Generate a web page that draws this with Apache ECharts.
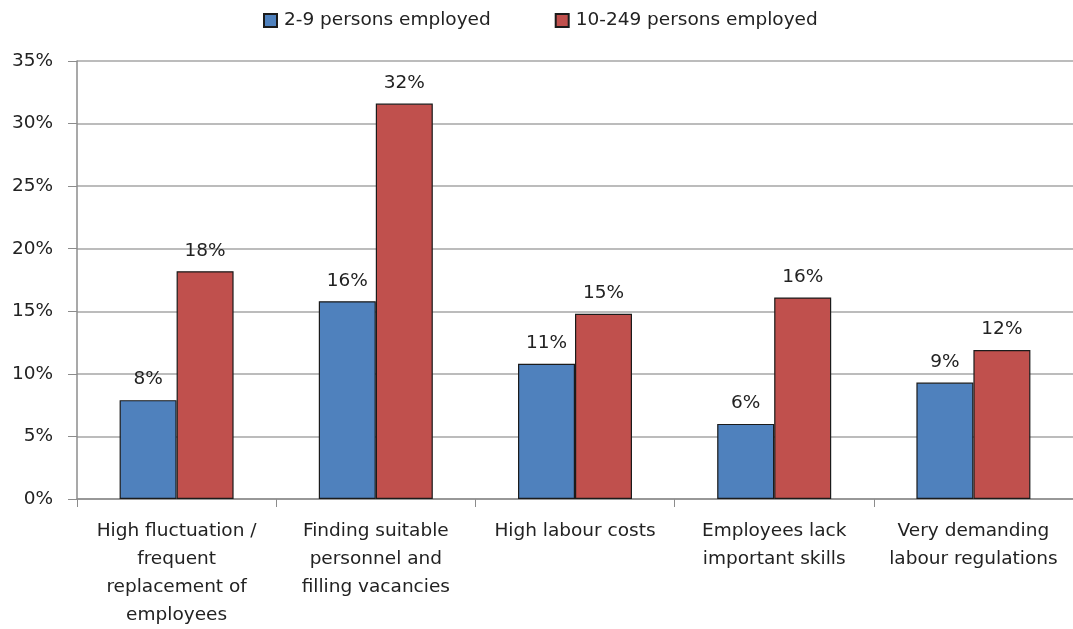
<!DOCTYPE html>
<html>
<head>
<meta charset="utf-8">
<script src="https://cdn.jsdelivr.net/npm/echarts@6/dist/echarts.min.js"></script>
<style>
  html, body { margin: 0; padding: 0; background: #fff; }
  #chart { width: 1073px; height: 629px; }
</style>
</head>
<body>
<div id="chart"></div>
<script>
// categories and values (percent)
var categories = [
    'High fluctuation /\nfrequent\nreplacement of\nemployees',
    'Finding suitable\npersonnel and\nfilling vacancies',
    'High labour costs',
    'Employees lack\nimportant skills',
    'Very demanding\nlabour regulations'
];
var small = [7.9, 15.8, 10.8, 6.0, 9.3];
var medium = [18.2, 31.6, 14.8, 16.1, 11.9];
var seriesNames = ['2-9 persons employed', '10-249 persons employed'];

var font = '"DejaVu Sans", "Open Sans", sans-serif';

function barSeries(name, data, color) {
    return {
        name: name,
        type: 'bar',
        data: data,
        barWidth: 57,
        barGap: '0%',
        itemStyle: { color: color, borderColor: '#1b1b1b', borderWidth: 1.2 },
        label: {
            show: true,
            position: 'top',
            distance: 11,
            fontFamily: font,
            fontSize: 18.5,
            color: '#222',
            formatter: function (p) { return Math.round(p.value) + '%'; }
        }
    };
}

var myChart = echarts.init(document.getElementById('chart'));
myChart.setOption({
    animation: false,
    legend: {
        top: 6,
        left: 258,
        icon: 'rect',
        itemWidth: 13,
        itemHeight: 13,
        itemGap: 64,
        textStyle: { fontFamily: font, fontSize: 18.5, color: '#222', padding: [0, 0, 0, 2] },
        data: seriesNames
    },
    grid: { left: 77, top: 61, width: 1002, height: 441, containLabel: false },
    xAxis: {
        type: 'category',
        data: categories,
        axisLine: { lineStyle: { color: '#8c8c8c', width: 1.5 } },
        axisTick: { show: true, length: 8, lineStyle: { color: '#8c8c8c' } },
        axisLabel: {
            interval: 0,
            margin: 18,
            fontFamily: font,
            fontSize: 18.5,
            lineHeight: 28,
            color: '#222'
        }
    },
    yAxis: {
        type: 'value',
        min: 0,
        max: 35,
        interval: 5,
        axisLine: { show: true, lineStyle: { color: '#8c8c8c', width: 1.5 } },
        axisTick: { show: true, length: 9, lineStyle: { color: '#8c8c8c' } },
        splitLine: { lineStyle: { color: '#a6a6a6', width: 1.5 } },
        axisLabel: {
            margin: 24,
            fontFamily: font,
            fontSize: 18.5,
            color: '#222',
            formatter: '{value}%'
        }
    },
    series: [
        barSeries(seriesNames[0], small, '#4f81bd'),
        barSeries(seriesNames[1], medium, '#c0504d')
    ]
});
</script>
</body>
</html>
